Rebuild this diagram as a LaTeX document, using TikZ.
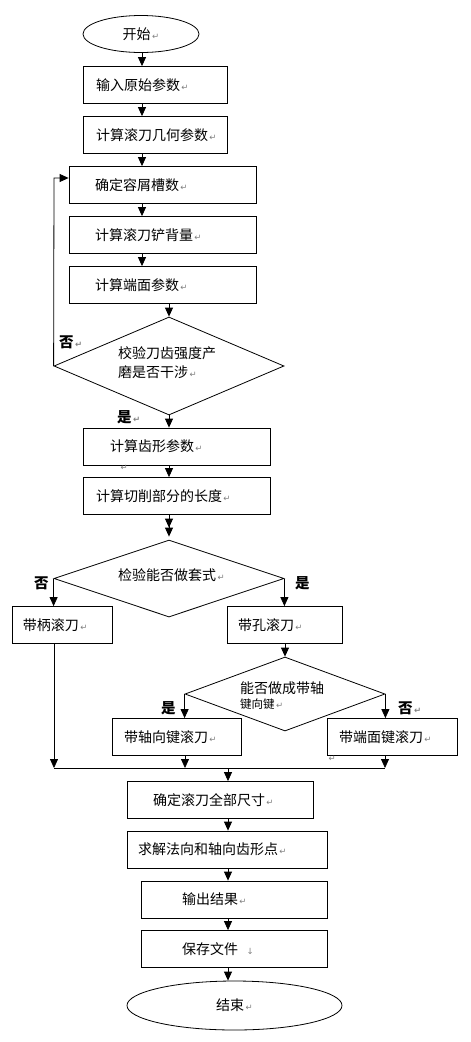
\documentclass[tikz,border=0pt]{standalone}
\usepackage{fontspec}
\setmainfont{Noto Sans CJK SC}
\newfontfamily\symfont{DejaVu Sans}
\usetikzlibrary{shapes.geometric,arrows.meta}
\newcommand\retmark{{\symfont\color{gray}\fontsize{8.5}{8.5}\selectfont\,↵}}
\newcommand\downmark{{\symfont\color{gray}\fontsize{8.5}{8.5}\selectfont\quad↓}}
\tikzset{
  x=1pt, y=-1pt,
  every node/.style={font=\fontsize{14}{19}\selectfont},
  bx/.style 2 args={draw, line width=0.8pt, rectangle, minimum height=37pt,
     align=left, text width=#1, inner xsep=#2, inner ysep=0pt},
  dia/.style 2 args={draw, line width=0.8pt, diamond, inner sep=0pt,
     minimum width=#1, minimum height=#2},
  ell/.style 2 args={draw, line width=0.8pt, ellipse, inner sep=0pt,
     minimum width=#1, minimum height=#2},
  lbl/.style={anchor=west, inner sep=0pt},
  yn/.style={anchor=west, inner sep=0pt, font=\fontsize{14.5}{14.5}\selectfont\bfseries},
  con/.style={line width=0.8pt},
  arr/.style={line width=0.8pt, -{Triangle[width=8pt,length=9pt]}},
  darr/.style={line width=0.8pt, -{Triangle[width=8pt,length=9pt]Triangle[width=8pt,length=9pt,sep=3pt]}}
}
\begin{document}
\begin{tikzpicture}
\useasboundingbox (0,0) rectangle (471,1042);
\fill[white] (0,0) rectangle (471,1042);

% start
\node[ell={116pt}{37pt}] (start) at (141,34) {开始\retmark};

% boxes
\node[bx={118pt}{13pt}] (b1) at (155,85) {输入原始参数\retmark};
\node[bx={118pt}{13pt}] (b2) at (155,135) {计算滚刀几何参数\retmark};
\node[bx={135pt}{26pt}] (b3) at (162.5,185) {确定容屑槽数\retmark};
\node[bx={135pt}{26pt}] (b4) at (162.5,235) {计算滚刀铲背量\retmark};
\node[bx={135pt}{26pt}] (b5) at (162.5,285) {计算端面参数\retmark};

% decision 1
\node[dia={230pt}{98pt}] (d1) at (169,366) {};
\node[lbl] (d1t) at (118,353) {校验刀齿强度产};
\node[lbl] (d1u) at (118,372) {磨是否干涉\retmark};

\node[bx={133pt}{27pt}] (b6) at (176.5,446.5) {计算齿形参数\retmark};
\node[lbl] (r6) at (119,468) {\retmark};
\node[bx={161pt}{13pt}] (b7) at (176.5,496) {计算切削部分的长度\retmark};

% decision 2
\node[dia={230pt}{77pt}] (d2) at (169,578.5) {};
\node[lbl] (d2t) at (118,575) {检验能否做套式\retmark};

\node[bx={78pt}{11pt}] (b8) at (62,625) {带柄滚刀\retmark};
\node[bx={93pt}{11pt}] (b9) at (284.5,625) {带孔滚刀\retmark};

% decision 3
\node[dia={200pt}{74pt}] (d3) at (285,694) {};
\node[lbl] (d3t) at (240,688) {能否做成带轴};
\node[lbl, font=\fontsize{11.5}{12}\selectfont] (d3u) at (240,704) {键向键\retmark};

\node[bx={105pt}{12pt}] (b10) at (176.5,737) {带轴向键滚刀\retmark};
\node[bx={106pt}{12pt}] (b11) at (392,737) {带端面键滚刀\retmark};
\node[lbl] (r11) at (327,759) {\retmark};

\node[bx={134pt}{26pt}] (b12) at (220,800) {确定滚刀全部尺寸\retmark};
\node[bx={178pt}{11pt}] (b13) at (227,849.5) {求解法向和轴向齿形点\retmark};
\node[bx={104pt}{41pt}] (b14) at (234,899.5) {输出结果\retmark};
\node[bx={104pt}{41pt}] (b15) at (234,949) {保存文件\downmark};

\node[ell={215pt}{49pt}] (stop) at (234.5,1005.5) {结束\retmark};

% yes / no labels
\node[yn] (n1) at (59,342) {否\retmark};
\node[yn] (y1) at (117,417) {是\retmark};
\node[yn] (n2) at (34,583) {否};
\node[yn] (y2) at (295,583) {是};
\node[yn] (y3) at (161,708) {是};
\node[yn] (n3) at (398,708) {否\retmark};

% helper coordinates
\coordinate (ax) at (142,0);
\coordinate (cx) at (228,0);
\coordinate (loopTop) at (54,178);
\coordinate (mL) at (54,768);
\coordinate (mM) at (185,768);
\coordinate (mC) at (228,768);
\coordinate (mR) at (385,768);

% connectors
\draw[arr] (start.south -| ax) -- (b1.north -| ax);
\draw[arr] (b1.south -| ax) -- (b2.north -| ax);
\draw[arr] (b2.south -| ax) -- (b3.north -| ax);
\draw[arr] (b3.south -| ax) -- (b4.north -| ax);
\draw[arr] (b4.south -| ax) -- (b5.north -| ax);
\draw[arr] (b5.south -| d1.north) -- (d1.north);
\draw[arr] (d1.west) -- (loopTop) -- (loopTop -| b3.west);
\draw[arr] (d1.south) -- (b6.north -| d1.south);
\draw[arr] (b6.south -| d1.south) -- (b7.north -| d1.south);
\draw[darr] (b7.south -| d2.north) -- (d2.north);
\draw[arr] (d2.west) -- (b8.north -| d2.west);
\draw[arr] (d2.east) -- (b9.north -| d2.east);
\draw[arr] (b9.south -| d3.north) -- (d3.north);
\draw[arr] (d3.west) -- (b10.north -| d3.west);
\draw[arr] (d3.east) -- (b11.north -| d3.east);
\draw[arr] (b8.south -| mL) -- (mL);
\draw[arr] (b10.south -| mM) -- (mM);
\draw[arr] (b11.south -| mR) -- (mR);
\draw[con] (mL) -- (mR);
\draw[arr] (mC) -- (b12.north -| mC);
\draw[arr] (b12.south -| cx) -- (b13.north -| cx);
\draw[arr] (b13.south -| cx) -- (b14.north -| cx);
\draw[arr] (b14.south -| cx) -- (b15.north -| cx);
\draw[arr] (b15.south -| cx) -- (stop.north -| cx);
\end{tikzpicture}
\end{document}
